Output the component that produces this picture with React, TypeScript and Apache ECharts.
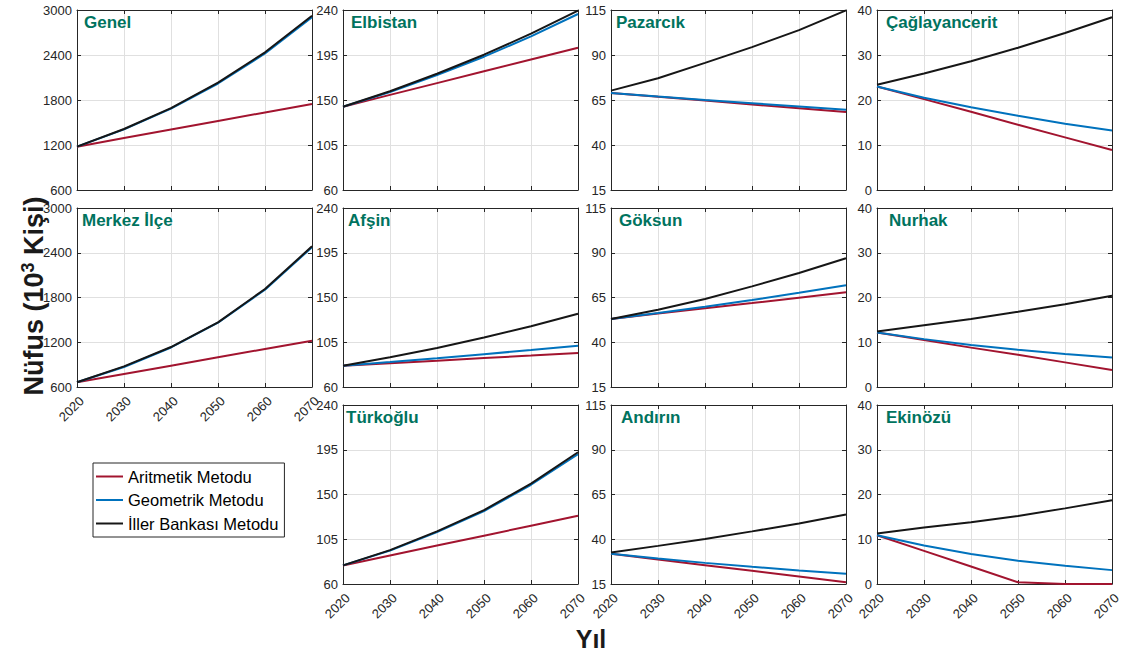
import React, { useEffect, useRef } from 'react';
import * as echarts from 'echarts';

const years = [2020, 2030, 2040, 2050, 2060, 2070];
const seriesNames = ['Aritmetik Metodu', 'Geometrik Metodu', 'İller Bankası Metodu'];
const seriesColors = ['#A2142F', '#0072BD', '#161616'];

const ticksGenel = [600, 1200, 1800, 2400, 3000];
const ticksBuyuk = [60, 105, 150, 195, 240];
const ticksOrta = [15, 40, 65, 90, 115];
const ticksKucuk = [0, 10, 20, 30, 40];

// Values in thousands of people, per decade 2020..2070
const genelArit = [1178, 1292, 1406, 1520, 1634, 1748];
const genelGeo = [1178, 1409, 1686, 2020, 2420, 2905];
const genelIller = [1178, 1413, 1692, 2031, 2436, 2924];

const elbistanArit = [143.3, 155.1, 166.9, 178.7, 190.5, 202.3];
const elbistanGeo = [143.3, 158, 175, 193.3, 213.6, 236];
const elbistanIller = [143.3, 158.8, 176.3, 195.3, 216.3, 239.3];

const pazarcikArit = [68.9, 66.8, 64.7, 62.5, 60.4, 58.3];
const pazarcikGeo = [68.9, 66.9, 65.0, 63.2, 61.4, 59.6];
const pazarcikIller = [70.2, 77.1, 85.6, 94.4, 103.8, 114.8];

const caglayanArit = [23.0, 20.2, 17.4, 14.5, 11.7, 8.9];
const caglayanGeo = [23.0, 20.5, 18.4, 16.5, 14.7, 13.2];
const caglayanIller = [23.4, 25.9, 28.6, 31.6, 34.9, 38.4];

const merkezArit = [663, 775, 886, 998, 1110, 1221];
const merkezGeo = [663, 868, 1130, 1462, 1905, 2474];
const merkezIller = [663, 877, 1136, 1467, 1914, 2486];

const afsinArit = [81.4, 84.0, 86.5, 89.1, 91.6, 94.2];
const afsinGeo = [81.4, 85.1, 88.9, 93.0, 97.2, 101.6];
const afsinIller = [81.4, 89.9, 99.3, 109.7, 121.1, 133.7];

const goksunArit = [53, 56, 59, 61.9, 64.9, 67.9];
const goksunGeo = [53, 56.3, 59.8, 63.6, 67.6, 71.8];
const goksunIller = [53, 58.2, 64.2, 71.2, 78.7, 86.9];

const nurhakArit = [12.2, 10.5, 8.8, 7.2, 5.5, 3.8];
const nurhakGeo = [12.2, 10.7, 9.4, 8.3, 7.4, 6.6];
const nurhakIller = [12.4, 13.8, 15.2, 16.8, 18.5, 20.4];

const turkogluArit = [78.7, 88.7, 98.7, 108.6, 118.6, 128.6];
const turkogluGeo = [78.7, 93.6, 112.2, 133.4, 159.8, 190.5];
const turkogluIller = [78.7, 94.1, 112.9, 134.3, 161, 192.5];

const andirinArit = [31.9, 28.7, 25.5, 22.4, 19.2, 16.0];
const andirinGeo = [31.9, 29.3, 26.8, 24.6, 22.6, 20.7];
const andirinIller = [32.6, 36.3, 40.1, 44.4, 48.8, 53.8];

const ekinozuArit = [10.9, 7.4, 3.9, 0.4, 0, 0];
const ekinozuGeo = [10.9, 8.6, 6.7, 5.2, 4.1, 3.1];
const ekinozuIller = [11.3, 12.6, 13.8, 15.2, 16.9, 18.7];

const panels = [
  { name: 'Genel', row: 0, col: 0, ticks: ticksGenel, vals: [genelArit, genelGeo, genelIller], dx: 7, showX: false },
  { name: 'Elbistan', row: 0, col: 1, ticks: ticksBuyuk, vals: [elbistanArit, elbistanGeo, elbistanIller], dx: 8, showX: false },
  { name: 'Pazarcık', row: 0, col: 2, ticks: ticksOrta, vals: [pazarcikArit, pazarcikGeo, pazarcikIller], dx: 5, showX: false },
  { name: 'Çağlayancerit', row: 0, col: 3, ticks: ticksKucuk, vals: [caglayanArit, caglayanGeo, caglayanIller], dx: 9, showX: false },
  { name: 'Merkez İlçe', row: 1, col: 0, ticks: ticksGenel, vals: [merkezArit, merkezGeo, merkezIller], dx: 5, showX: true },
  { name: 'Afşin', row: 1, col: 1, ticks: ticksBuyuk, vals: [afsinArit, afsinGeo, afsinIller], dx: 5, showX: false },
  { name: 'Göksun', row: 1, col: 2, ticks: ticksOrta, vals: [goksunArit, goksunGeo, goksunIller], dx: 8, showX: false },
  { name: 'Nurhak', row: 1, col: 3, ticks: ticksKucuk, vals: [nurhakArit, nurhakGeo, nurhakIller], dx: 12, showX: false },
  { name: 'Türkoğlu', row: 2, col: 1, ticks: ticksBuyuk, vals: [turkogluArit, turkogluGeo, turkogluIller], dx: 3, showX: true },
  { name: 'Andırın', row: 2, col: 2, ticks: ticksOrta, vals: [andirinArit, andirinGeo, andirinIller], dx: 10, showX: true },
  { name: 'Ekinözü', row: 2, col: 3, ticks: ticksKucuk, vals: [ekinozuArit, ekinozuGeo, ekinozuIller], dx: 9, showX: true },
];

const colLeft = [77, 343, 611, 877];
const rowTop = [10, 208, 405];
const rowH = [180, 179, 179];
const gridW = 235;

const FONT = "'Liberation Sans', Arial, Helvetica, sans-serif";
const AXIS_COLOR = '#262626';
const GRID_COLOR = '#e0e0e0';
const TITLE_COLOR = '#00735E';
const plain = (v: number) => String(v);

function buildOption() {
  const grid: any[] = [];
  const xAxis: any[] = [];
  const yAxis: any[] = [];
  const series: any[] = [];
  const graphic: any[] = [];

  panels.forEach((p, i) => {
    const left = colLeft[p.col];
    const top = rowTop[p.row];
    grid.push({ left, top, width: gridW, height: rowH[p.row], containLabel: false });
    const ymin = p.ticks[0];
    const ymax = p.ticks[p.ticks.length - 1];
    const tickStyle = { show: true, inside: true, length: 4, lineStyle: { color: AXIS_COLOR, width: 1 } };
    const lineStyle = { show: true, onZero: false, lineStyle: { color: AXIS_COLOR, width: 1 } };
    xAxis.push({
      type: 'value', gridIndex: i, position: 'bottom', min: 2020, max: 2070, interval: 10,
      axisLine: lineStyle,
      axisTick: tickStyle,
      axisLabel: {
        show: p.showX, rotate: 45, margin: 7, verticalAlign: 'top', fontSize: 13, color: AXIS_COLOR, fontFamily: FONT,
        showMinLabel: true, showMaxLabel: true, formatter: plain,
      },
      splitLine: { show: true, lineStyle: { color: GRID_COLOR, width: 1 } },
    });
    xAxis.push({
      type: 'value', gridIndex: i, position: 'top', min: 2020, max: 2070, interval: 10,
      axisLine: lineStyle, axisTick: tickStyle, axisLabel: { show: false }, splitLine: { show: false },
    });
    yAxis.push({
      type: 'value', gridIndex: i, position: 'left', min: ymin, max: ymax,
      axisLine: lineStyle,
      axisTick: { ...tickStyle, customValues: p.ticks },
      axisLabel: {
        show: true, customValues: p.ticks, margin: 5, fontSize: 13, color: AXIS_COLOR, fontFamily: FONT,
        formatter: plain,
      },
      splitLine: { show: true, lineStyle: { color: GRID_COLOR, width: 1 } },
    });
    yAxis.push({
      type: 'value', gridIndex: i, position: 'right', min: ymin, max: ymax,
      axisLine: lineStyle,
      axisTick: { ...tickStyle, customValues: p.ticks },
      axisLabel: { show: false, customValues: p.ticks },
      splitLine: { show: false },
    });
    p.vals.forEach((arr, k) => {
      series.push({
        type: 'line', name: seriesNames[k], xAxisIndex: 2 * i, yAxisIndex: 2 * i,
        data: years.map((yr, j) => [yr, arr[j]]),
        showSymbol: false, symbol: 'none',
        lineStyle: { width: 2, color: seriesColors[k] },
        itemStyle: { color: seriesColors[k] },
        z: 2 + k,
      });
    });
    graphic.push({
      type: 'text', x: left + p.dx, y: top + 4, z: 100,
      style: { text: p.name, fill: TITLE_COLOR, font: `bold 17px ${FONT}`, align: 'left', verticalAlign: 'top' },
    });
  });

  graphic.push({
    type: 'text', x: 34, y: 296, rotation: Math.PI / 2, z: 100,
    style: {
      text: '{a|Nüfus (10}{b|3}{a| Kişi)}', align: 'center', verticalAlign: 'middle',
      rich: {
        a: { font: `bold 27px ${FONT}`, fill: '#1a1a1a', lineHeight: 30 },
        b: { font: `bold 18px ${FONT}`, fill: '#1a1a1a', verticalAlign: 'top', lineHeight: 18 },
      },
    },
  });
  graphic.push({
    type: 'text', x: 591, y: 639, z: 100,
    style: { text: 'Yıl', font: `bold 25px ${FONT}`, fill: '#1a1a1a', align: 'center', verticalAlign: 'middle' },
  });

  return {
    animation: false,
    backgroundColor: '#ffffff',
    textStyle: { fontFamily: FONT },
    grid, xAxis, yAxis, series, graphic,
    legend: {
      data: seriesNames, orient: 'vertical', left: 93, top: 463,
      icon: 'rect', itemWidth: 27, itemHeight: 2, itemGap: 4.5,
      padding: [4, 6, 4, 3],
      borderColor: AXIS_COLOR, borderWidth: 1, backgroundColor: '#ffffff',
      selectedMode: false,
      textStyle: { fontSize: 16.5, color: '#000', fontFamily: FONT, lineHeight: 19 },
    },
  };
}

export default function App() {
  const ref = useRef<HTMLDivElement>(null);
  useEffect(() => {
    if (!ref.current) return;
    const chart = echarts.init(ref.current, undefined, { renderer: 'svg' });
    chart.setOption(buildOption() as any);
    return () => chart.dispose();
  }, []);
  return (
    <div
      ref={ref}
      style={{ position: 'fixed', left: 0, top: 0, width: 1125, height: 654, background: '#fff' }}
    />
  );
}
